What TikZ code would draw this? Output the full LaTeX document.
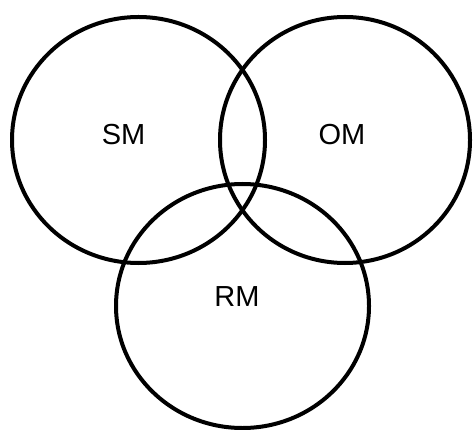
\documentclass[tikz,border=0pt]{standalone}
\usepackage{fontspec}
\setmainfont{Liberation Sans}

\begin{document}
\begin{tikzpicture}[
    x=1pt,y=-1pt,
    set/.style={line width=4pt,draw=black},
    set label/.style={font=\fontsize{29}{34}\selectfont,inner sep=0pt}
]
    \useasboundingbox (0,0) rectangle (473,430);

    % the three sets
    \draw[set] (138.5,140) ellipse [x radius=126.5,y radius=123];
    \draw[set] (345,140) ellipse [x radius=125,y radius=123];
    \draw[set] (242.5,306) ellipse [x radius=126.5,y radius=122];

    \node[set label] (sm) at (123.5,134.5) {SM};
    \node[set label] (om) at (342,134.5) {OM};
    \node[set label] (rm) at (237,297) {RM};
\end{tikzpicture}
\end{document}
